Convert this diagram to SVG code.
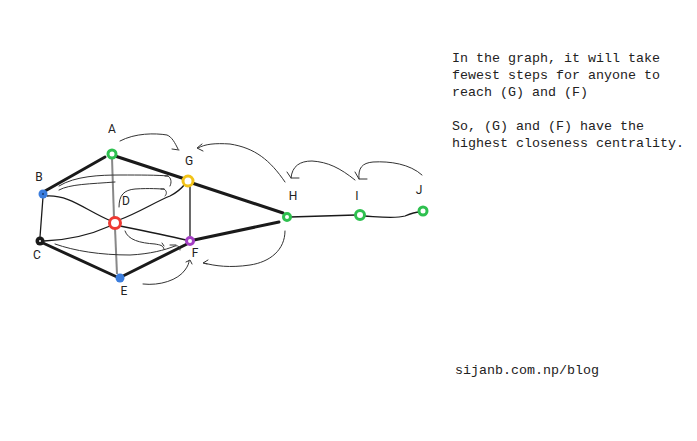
<svg xmlns="http://www.w3.org/2000/svg" width="697" height="441" viewBox="0 0 697 441">
<style>
.lbl{font-family:Roboto,"Liberation Sans",sans-serif;font-size:12px;fill:#222;text-anchor:middle}
.txt{font-family:"Liberation Mono","DejaVu Sans Mono",monospace;font-size:13.33px;fill:#222}
.thick{stroke:#1a1a1a;stroke-width:3;fill:none;stroke-linecap:round}
.thin{stroke:#1a1a1a;stroke-width:1.3;fill:none;stroke-linecap:round}
.gray{stroke:#888;stroke-width:2;fill:none}
.hand{stroke:#333;stroke-width:1;fill:none;stroke-linecap:round;stroke-linejoin:round}
.ring{fill:#fff;stroke-width:3}
</style>
<rect width="697" height="441" fill="#fff"/>
<g id="connectors">
<path class="thick" d="M105 157 L45 191"/>
<path class="thick" d="M115 156 L185 179"/>
<path class="thick" d="M192 183 L283 213"/>
<path class="gray" d="M112 158 L114 218"/>
<path class="gray" d="M115 228 L117 274"/>
<path class="thin" d="M43 197 L40 237"/>
<path class="thick" d="M43 243 L117 277"/>
<path class="thick" d="M123 276 L187 244"/>
<path class="thick" d="M194 240 L279 222"/>
<path class="thin" d="M190 185 L190 236"/>
<path class="thin" d="M290 217 L356 215"/>
<path class="thin" d="M364 216 C380 217 395 219 405 216 C412 213 416 212 420 212"/>
<path class="thin" d="M47 196 C70 195 85 210 111 221"/>
<path class="thin" d="M119 220 C140 212 155 202 170 196 C178 192 181 189 185 184"/>
<path class="thin" d="M44 241 C70 240 90 235 110 226"/>
<path class="thin" d="M120 226 C145 231 165 235 186 240"/>
<path class="hand" d="M120 141 C135 133 155 133 167 135 C172 137 175 143 178 149 M172 149 L179 150"/>
<path class="hand" d="M285 182 C270 160 255 148 230 144 C215 143 205 144 198 148 M202 144 L197 148 L203 151"/>
<path class="hand" d="M355 180 C340 168 328 162 312 161 C300 161 292 166 291 178 M287 172 L291 178 L299 178"/>
<path class="hand" d="M422 175 C410 164 390 161 373 162 C362 163 358 168 359 179 M355 172 L359 179 L367 179"/>
<path class="hand" d="M59 186 C75 176 100 175 120 175 C140 175 158 175 168 176 C171 178 172 182 170 186 M165 176 L168 176"/>
<path class="hand" d="M59 190 C70 184 90 184 115 182"/>
<path class="hand" d="M119 207 C119 195 124 190 135 189 C150 188 160 189 164 189 C167 191 167 194 165 196 M161 189 L164 189"/>
<path class="hand" d="M55 244 C75 251 100 255 130 255 C150 254 165 250 175 246 C179 245 180 248 180 250 M170 245 L176 245"/>
<path class="hand" d="M125 231 C128 240 140 243 155 244 C160 245 163 245 164 249 M162 243 L164 246"/>
<path class="hand" d="M143 284 C160 286 178 280 185 270 C188 266 189 263 189 261 M186 262 L190 260 L192 264"/>
<path class="hand" d="M285 231 C285 250 270 262 250 265 C230 268 215 266 204 263 M208 260 L203 263 L207 264"/>
</g>
<g id="node-A"><circle class="ring" cx="112" cy="154" r="4" stroke="#2ec04f"/><text class="lbl" x="112" y="133">A</text></g>
<g id="node-B"><circle cx="43" cy="194" r="4.5" fill="#3b7ddd"/><circle cx="43" cy="194" r="1" fill="#1a3a6a"/><text class="lbl" x="39" y="181">B</text></g>
<g id="node-C"><circle cx="40" cy="241" r="4.5" fill="#1a1a1a"/><circle cx="40" cy="241" r="1" fill="#fff"/><text class="lbl" x="37" y="259">C</text></g>
<g id="node-D"><circle class="ring" cx="115" cy="223" r="5.5" stroke="#ee3a33"/><text class="lbl" x="126" y="205">D</text></g>
<g id="node-E"><circle cx="120" cy="278" r="4.5" fill="#3b7ddd"/><text class="lbl" x="124" y="295">E</text></g>
<g id="node-F"><circle class="ring" cx="190" cy="241" r="3.5" stroke="#a43fc4"/><text class="lbl" x="195" y="257">F</text></g>
<g id="node-G"><circle class="ring" cx="188" cy="181" r="5" stroke="#f2c318"/><text class="lbl" x="189" y="165">G</text></g>
<g id="node-H"><circle class="ring" cx="287" cy="217" r="3.5" stroke="#2ec04f" stroke-width="2.5"/><text class="lbl" x="293" y="200">H</text></g>
<g id="node-I"><circle class="ring" cx="360" cy="215" r="4.5" stroke="#2ec04f"/><text class="lbl" x="357" y="200">I</text></g>
<g id="node-J"><circle class="ring" cx="423" cy="211" r="4" stroke="#2ec04f"/><text class="lbl" x="419" y="194">J</text></g>
<g id="notes">
<text class="txt" x="452" y="62">In the graph, it will take</text>
<text class="txt" x="452" y="79">fewest steps for anyone to</text>
<text class="txt" x="452" y="96">reach (G) and (F)</text>
<text class="txt" x="452" y="130">So, (G) and (F) have the</text>
<text class="txt" x="452" y="147">highest closeness centrality.</text>
<text class="txt" x="455" y="374">sijanb.com.np/blog</text>
</g>
</svg>
